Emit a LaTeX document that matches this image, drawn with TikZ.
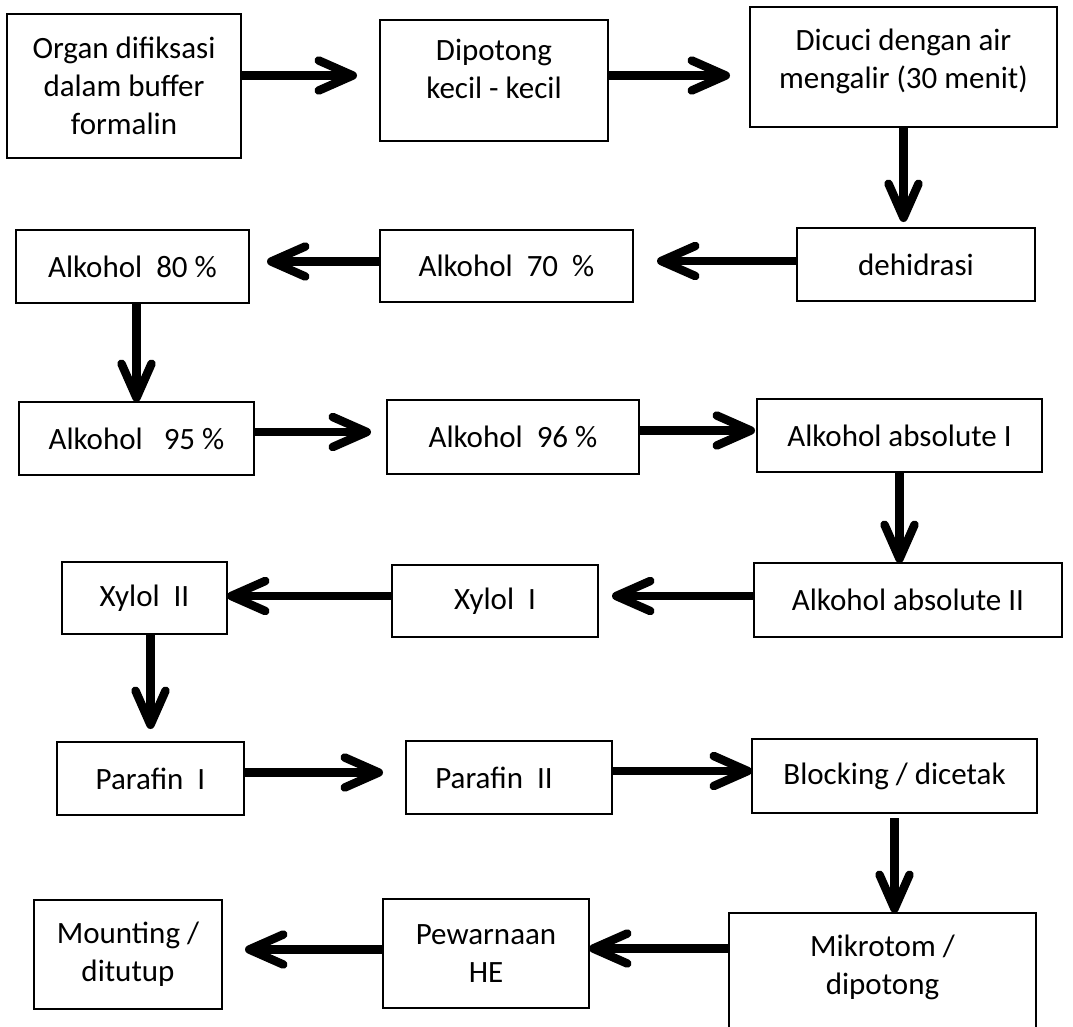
\documentclass[tikz,border=0pt]{standalone}
\usepackage{fontspec}
\setmainfont{Carlito}
\usetikzlibrary{arrows.meta}

\begin{document}
    \begin{tikzpicture}[x=1pt, y=-1pt,
            box/.style={draw, line width=2.5pt, inner sep=0pt, outer sep=0pt, align=center, font=\fontsize{31}{38}\selectfont},
            arr/.style={line width=8.5pt, -{Straight Barb[length=34pt, width=30pt, round]}},
            harr/.style={arr, transform canvas={yshift=5pt}}]
        \useasboundingbox (0, 0) rectangle (1073, 1026);
        \clip (0, 0) rectangle (1073, 1026);

        \node[box, minimum width=234pt, minimum height=144pt] (organ) at (124, 86) {Organ difiksasi\\dalam buffer\\formalin};
        \node[box, minimum width=228pt, minimum height=121pt] (potong) at (494, 80.5) {Dipotong\\kecil - kecil\rule[-23pt]{0pt}{0pt}};
        \node[box, minimum width=307pt, minimum height=120pt] (cuci) at (903.5, 67) {Dicuci dengan air\\mengalir (30 menit)\rule[-16pt]{0pt}{0pt}};

        \node[box, minimum width=233pt, minimum height=73pt] (alk80) at (132.5, 266.5) {Alkohol\ \ 80 \%};
        \node[box, minimum width=253pt, minimum height=72pt] (alk70) at (506.5, 266) {Alkohol\ \ 70\ \ \%};
        \node[box, minimum width=238pt, minimum height=73pt] (dehidrasi) at (916, 264.5) {dehidrasi};

        \node[box, minimum width=235pt, minimum height=73pt] (alk95) at (136.5, 438.5) {Alkohol\ \ \ 95 \%};
        \node[box, minimum width=252pt, minimum height=74pt] (alk96) at (513, 437) {Alkohol\ \ 96 \%};
        \node[box, minimum width=285pt, minimum height=73pt] (absI) at (899.5, 435.5) {Alkohol absolute I};

        \node[box, minimum width=165pt, minimum height=72pt] (xylolII) at (144.5, 598) {Xylol\ \ II};
        \node[box, minimum width=206pt, minimum height=72pt] (xylolI) at (495, 601) {Xylol\ \ I};
        \node[box, minimum width=308pt, minimum height=74pt] (absII) at (908, 600) {Alkohol absolute II};

        \node[box, minimum width=187pt, minimum height=73pt] (parafinI) at (150.5, 778.5) {Parafin\ \ I};
        \node[box, minimum width=206pt, minimum height=73pt] (parafinII) at (509, 777.5) {Parafin\ \ II\hspace{30pt}};
        \node[box, minimum width=285pt, minimum height=74pt] (blocking) at (894.5, 776) {Blocking / dicetak};

        \node[box, minimum width=188pt, minimum height=109pt] (mounting) at (128, 954.5) {Mounting /\\ditutup};
        \node[box, minimum width=206pt, minimum height=109pt] (pewarnaan) at (486, 953.5) {Pewarnaan\\HE};
        \node[box, minimum width=307pt, minimum height=127pt] (mikrotom) at (882.5, 976.5) {Mikrotom /\\dipotong\rule[-23pt]{0pt}{0pt}};

        \draw[harr, shorten >=23pt] (organ.east |- potong.west) -- (potong.west);
        \draw[harr, shorten >=20pt] (potong.east) -- (potong.east -| cuci.west);
        \draw[arr, shorten >=6pt] (cuci.south) -- (cuci.south |- dehidrasi.north);

        \draw[harr, shorten >=24pt] (dehidrasi.west |- alk70.east) -- (alk70.east);
        \draw[harr, shorten >=18pt] (alk70.west |- alk80.east) -- (alk80.east);
        \draw[arr] (alk80.south -| alk95.north) -- (alk95.north);

        \draw[harr, shorten >=16pt] (alk95.east |- alk96.west) -- (alk96.west);
        \draw[harr, shorten >=2pt] (alk96.east |- absI.west) -- (absI.west);
        \draw[arr] (absI.south) -- (absI.south |- absII.north);

        \draw[harr, shorten >=14pt] (absII.west |- xylolI.east) -- (xylolI.east);
        \draw[harr] (xylolI.west) -- (xylolI.west -| xylolII.east);
        \draw[arr, shorten >=13pt] (xylolII.south -| parafinI.north) -- (parafinI.north);

        \draw[harr, shorten >=23pt] (parafinI.east |- parafinII.west) -- (parafinII.west);
        \draw[harr] (parafinII.east |- blocking.west) -- (blocking.west);
        \draw[arr, shorten <=5pt] (blocking.south) -- (blocking.south |- mikrotom.north);

        \draw[harr] (mikrotom.west |- pewarnaan.east) -- (pewarnaan.east);
        \draw[harr, shorten >=23pt] (pewarnaan.west |- mounting.east) -- (mounting.east);
    \end{tikzpicture}
\end{document}
